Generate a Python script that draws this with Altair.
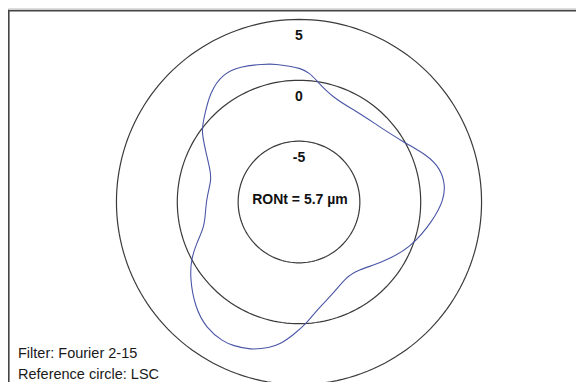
import altair as alt
import pandas as pd

# ---- data -------------------------------------------------------------
LEVELS = [-5, 0, 5]                 # reference circles (µm)
LEVEL_LABELS = ["-5", "0", "5"]
OFFSET = 10                         # centre of the polar plot = -10 µm

# roundness profile: polar angle (deg, counter-clockwise from +x) and deviation (µm)
PROFILE_ANGLE = [178.8, 172.0, 166.9, 161.8, 153.0, 144.2, 140.0, 128.9, 120.5, 113.6,
                 104.5, 99.2, 93.8, 89.6, 85.1, 81.6, 71.7, 57.4, 44.7, 29.8,
                 20.2, 13.4, 6.6, 0.8, -7.6, -22.6, -35.3, -49.7, -57.4, -69.4,
                 -80.7, -86.4, -92.6, -97.6, -101.3, -108.3, -114.7, -118.5,
                 -126.2, -134.8, -145.6, -152.3, -158.0, -165.3, -173.1]
PROFILE_DEV = [-2.40, -2.52, -2.55, -2.38, -1.47, -0.12, 0.28, 1.66, 2.25, 2.15,
               1.71, 1.48, 1.18, 1.00, 0.63, 0.05, -1.01, -1.18, -1.00, -0.11,
               1.20, 1.93, 2.10, 1.88, 1.15, -0.10, -1.50, -2.62, -2.71, -1.98,
               -1.00, 0.00, 0.95, 1.80, 2.20, 2.81, 2.98, 3.06,
               2.87, 2.15, 0.87, -0.02, -0.92, -1.95, -2.25]

RONT_TEXT = "RONt = 5.7 µm"
NOTES = ["Filter: Fourier 2-15", "Reference circle: LSC"]

# ---- layout -------------------------------------------------------------
W, H = 568, 374
XDOM = [-23.91, 22.76]
YDOM = [-14.79, 15.94]
FONT = "Liberation Sans"

xs = alt.Scale(domain=XDOM, nice=False, zero=False)
ys = alt.Scale(domain=YDOM, nice=False, zero=False)
X = alt.X("x:Q", scale=xs, axis=None)
Y = alt.Y("y:Q", scale=ys, axis=None)

levels_df = pd.DataFrame({"level": LEVELS, "label": LEVEL_LABELS})
profile_df = pd.DataFrame({"idx": range(len(PROFILE_ANGLE)),
                           "angle": PROFILE_ANGLE, "dev": PROFILE_DEV})

circles = (
    alt.Chart(levels_df)
    .transform_calculate(angles="sequence(0, 362, 2)")
    .transform_flatten(["angles"])
    .transform_calculate(
        x=f"(datum.level + {OFFSET}) * cos(datum.angles * PI / 180)",
        y=f"(datum.level + {OFFSET}) * sin(datum.angles * PI / 180)",
    )
    .mark_line(color="#3a3a3a", strokeWidth=1.2)
    .encode(x=X, y=Y, detail="level:N", order="angles:Q")
)

profile = (
    alt.Chart(profile_df)
    .transform_calculate(
        x=f"(datum.dev + {OFFSET}) * cos(datum.angle * PI / 180)",
        y=f"(datum.dev + {OFFSET}) * sin(datum.angle * PI / 180)",
    )
    .mark_line(color="#4a56a6", strokeWidth=1.1, interpolate="basis-closed")
    .encode(x=X, y=Y, order="idx:Q")
)

level_labels = (
    alt.Chart(levels_df)
    .transform_calculate(x="0", y=f"datum.level + {OFFSET}")
    .mark_text(font=FONT, fontSize=14, fontWeight="bold", color="#111",
               baseline="middle", align="center", dy=17)
    .encode(x=X, y=Y, text="label:N")
)

ront = (
    alt.Chart(pd.DataFrame({"t": [RONT_TEXT]}))
    .transform_calculate(x="0", y="0")
    .mark_text(font=FONT, fontSize=14, fontWeight="bold", color="#111",
               baseline="middle", align="center", dx=1, dy=-2)
    .encode(x=X, y=Y, text="t:N")
)

notes = alt.layer(*[
    alt.Chart(pd.DataFrame({"t": [n]}))
    .mark_text(font=FONT, fontSize=14.5, color="#1a1a1a", align="left",
               baseline="alphabetic")
    .encode(x=alt.value(10), y=alt.value(350 + 21 * i), text="t:N")
    for i, n in enumerate(NOTES)
])

border_top = (
    alt.Chart(pd.DataFrame({"a": [0]}))
    .mark_rule(color="#444", strokeWidth=1.6)
    .encode(x=alt.value(0), x2=alt.value(W), y=alt.value(2.6))
)
border_left = (
    alt.Chart(pd.DataFrame({"a": [0]}))
    .mark_rule(color="#444", strokeWidth=1.6)
    .encode(x=alt.value(0.8), y=alt.value(2), y2=alt.value(H))
)

chart = (
    alt.layer(border_top, border_left, circles, profile, level_labels, ront, notes)
    .properties(width=W, height=H, padding=0, autosize=alt.AutoSizeParams(type="none"))
    .configure_view(stroke=None)
    .configure(background="white")
)

chart.save("out.html", embed_options={"renderer": "svg", "actions": False})
